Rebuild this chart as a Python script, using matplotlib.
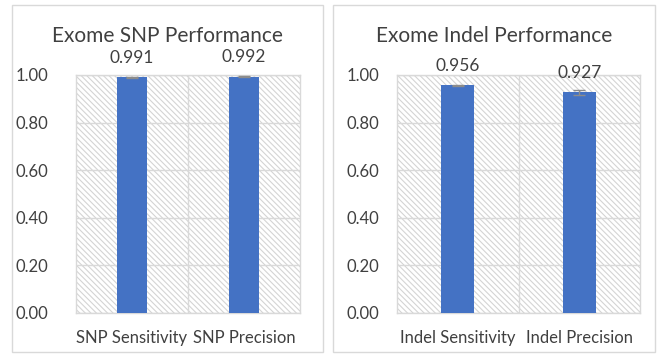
import matplotlib
matplotlib.use("Agg")
import matplotlib.pyplot as plt
from matplotlib.patches import Rectangle

plt.rcParams['font.family'] = ['Lato', 'DejaVu Sans']
plt.rcParams['hatch.color'] = '#d4d4d4'
plt.rcParams['hatch.linewidth'] = 0.8

snp_labels = ['SNP Sensitivity', 'SNP Precision']
snp_values = [0.991, 0.992]
snp_errors = [0.002, 0.002]

indel_labels = ['Indel Sensitivity', 'Indel Precision']
indel_values = [0.956, 0.927]
indel_errors = [0.003, 0.010]

titles = ['Exome SNP Performance', 'Exome Indel Performance']
yticks = [0.0, 0.2, 0.4, 0.6, 0.8, 1.0]

bar_color = '#4472c4'
grid_color = '#d9d9d9'
text_color = '#404040'

fig = plt.figure(figsize=(6.63, 3.58), dpi=100)

# panel frames (pixel coords -> figure fraction)
W, H = 663, 358
frames = [(12, 323), (333, 655)]
for x0, x1 in frames:
    fig.patches.append(Rectangle((x0 / W, 1 - 352 / H), (x1 - x0) / W, 347 / H,
                                 transform=fig.transFigure, fill=False,
                                 edgecolor='#d9d9d9', linewidth=1.0))

axes_pos = [[76 / W, 0.1257, 224 / W, 0.665],
            [397 / W, 0.1257, 243 / W, 0.665]]
ypads = [20, 13]

panels = [(snp_labels, snp_values, snp_errors),
          (indel_labels, indel_values, indel_errors)]

for i, (labels, vals, errs) in enumerate(panels):
    ax = fig.add_axes(axes_pos[i])
    ax.set_xlim(-0.5, 1.5)
    ax.set_ylim(0, 1.0)
    ax.add_patch(Rectangle((0, 0), 1, 1, transform=ax.transAxes, facecolor='white',
                           hatch='\\' * 6, edgecolor='#d4d4d4', linewidth=0, zorder=0))
    for y in yticks:
        ax.axhline(y, color=grid_color, linewidth=1.0, zorder=1)
    ax.axvline(0.5, color=grid_color, linewidth=1.0, zorder=1)
    x = range(len(vals))
    ax.bar(x, vals, width=0.27, color=bar_color, zorder=3)
    ax.errorbar(x, vals, yerr=errs, fmt='none', ecolor='#8c8c8c',
                elinewidth=1.0, capsize=4, capthick=1.0, zorder=4)
    for xi, v in zip(x, vals):
        ax.annotate(f'{v:.3f}', (xi, v), xytext=(0, 14), textcoords='offset points',
                    ha='center', va='center', fontsize=12.5, color=text_color,
                    annotation_clip=False)
    ax.set_xticks(list(x))
    ax.set_xticklabels(labels, fontsize=12, color=text_color)
    ax.set_yticks(yticks)
    ax.set_yticklabels([f'{t:.2f}' for t in yticks], fontsize=12, color=text_color)
    ax.tick_params(axis='both', length=0)
    ax.tick_params(axis='y', pad=ypads[i])
    ax.tick_params(axis='x', pad=12)
    for s in ax.spines.values():
        s.set_color(grid_color)
        s.set_linewidth(1.0)
    x0, x1 = frames[i]
    fig.text((x0 + x1) / 2 / W, 1 - 36 / H, titles[i], ha='center', va='center',
             fontsize=15, color=text_color)

fig.savefig('out.png', dpi=100)
